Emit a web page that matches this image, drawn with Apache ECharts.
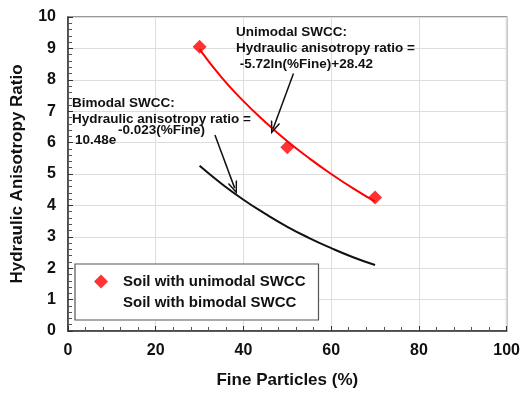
<!DOCTYPE html>
<html>
<head>
<meta charset="utf-8">
<script src="https://cdn.jsdelivr.net/npm/echarts@6/dist/echarts.min.js"></script>
<style>html,body{margin:0;padding:0;background:#fff}#c{width:523px;height:394px}</style>
</head>
<body>
<div id="c"></div>
<script>
// Measured data points (soil with unimodal SWCC)
const uniX = [30, 50, 70];
const uniY = [9.05, 5.85, 4.25];
// Fitted curves
const fitX = [30, 35, 40, 45, 50, 55, 60, 65, 70];
const uniFitY = [8.97, 8.08, 7.32, 6.65, 6.04, 5.50, 5.00, 4.54, 4.12];
const biFitY = [5.26, 4.69, 4.18, 3.73, 3.32, 2.96, 2.64, 2.35, 2.10];
// Arrow annotation endpoints (data coords)
const uniArrow = [[51.4, 8.2], [46.8, 6.46]];
const biArrow = [[33.5, 6.24], [38.0, 4.55]];
const xTicks = [0, 20, 40, 60, 80, 100];
const yTicks = [0,1,2,3,4,5,6,7,8,9,10];

const FONT = '"Liberation Sans", Arial, sans-serif';
const chevron = 'path://M5,0 L10,12 L8.4,12 L5,3.6 L1.6,12 L0,12 Z';

const chart = echarts.init(document.getElementById('c'), null, {renderer: 'canvas'});
const pair = (xs, ys) => xs.map((x, i) => [x, ys[i]]);
const annStyle = {fontFamily: FONT, fontWeight: 'bold', fontSize: 13.5, lineHeight: 16, fill: '#111'};

chart.setOption({
  animation: false,
  backgroundColor: '#fff',
  textStyle: {fontFamily: FONT},
  grid: {left: 68, right: 13, top: 17, bottom: 63, show: true, borderColor: '#777', borderWidth: 1.5},
  xAxis: {
    type: 'value', min: 0, max: 100, interval: 20,
    name: 'Fine Particles (%)', nameLocation: 'middle', nameGap: 41,
    nameTextStyle: {fontFamily: FONT, fontWeight: 'bold', fontSize: 17, color: '#111'},
    axisLine: {show: true, lineStyle: {color: '#333', width: 1.5}},
    axisTick: {show: true, inside: true, length: 5, lineStyle: {color: '#333'}},
    minorTick: {show: true, splitNumber: 5, length: 4, lineStyle: {color: '#555'}},
    axisLabel: {fontFamily: FONT, fontWeight: 'bold', fontSize: 16, color: '#111', margin: 12,
      formatter: v => xTicks.includes(v) ? String(v) : ''},
    splitLine: {show: true, lineStyle: {color: '#ddd', width: 1}}
  },
  yAxis: {
    type: 'value', min: 0, max: 10, interval: 1,
    name: 'Hydraulic Anisotropy Ratio', nameLocation: 'middle', nameGap: 42,
    nameTextStyle: {fontFamily: FONT, fontWeight: 'bold', fontSize: 17, color: '#111'},
    axisLine: {show: true, lineStyle: {color: '#333', width: 1.5}},
    axisTick: {show: true, inside: true, length: 5, lineStyle: {color: '#333'}},
    minorTick: {show: true, splitNumber: 5, length: 4, lineStyle: {color: '#555'}},
    axisLabel: {fontFamily: FONT, fontWeight: 'bold', fontSize: 16, color: '#111', margin: 12,
      formatter: v => yTicks.includes(v) ? String(v) : ''},
    splitLine: {show: true, lineStyle: {color: '#ddd', width: 1}}
  },
  legend: {
    orient: 'vertical', left: 75, top: 264,
    backgroundColor: '#fff', borderColor: '#555', borderWidth: 1.2,
    padding: [10, 13, 10, 19], itemGap: 6, itemWidth: 14, itemHeight: 14,
    textStyle: {fontFamily: FONT, fontWeight: 'bold', fontSize: 15, color: '#111', padding: [0, 0, 0, 10]},
    data: [
      {name: 'Soil with unimodal SWCC', icon: 'diamond', itemStyle: {color: '#ff0000'}},
      {name: 'Soil with bimodal SWCC', icon: 'rect', itemStyle: {color: 'rgba(0,0,0,0)', opacity: 0}}
    ]
  },
  series: [
    {
      name: 'Unimodal fit', type: 'line', smooth: true, symbol: 'none',
      data: pair(fitX, uniFitY), lineStyle: {color: '#ff0000', width: 2}, z: 2,
      markLine: {
        silent: true, symbol: ['none', chevron], symbolSize: [10, 13],
        lineStyle: {color: '#111', width: 1.5, type: 'solid'}, label: {show: false},
        data: [[{coord: uniArrow[0]}, {coord: uniArrow[1]}]]
      }
    },
    {
      name: 'Bimodal fit', type: 'line', smooth: true, symbol: 'none',
      data: pair(fitX, biFitY), lineStyle: {color: '#111', width: 2}, z: 2,
      markLine: {
        silent: true, symbol: ['none', chevron], symbolSize: [10, 13],
        lineStyle: {color: '#111', width: 1.5, type: 'solid'}, label: {show: false},
        data: [[{coord: biArrow[0]}, {coord: biArrow[1]}]]
      }
    },
    {
      name: 'Soil with unimodal SWCC', type: 'scatter', symbol: 'diamond', symbolSize: 14,
      data: pair(uniX, uniY), itemStyle: {color: '#ff0000'}, z: 3
    },
    {
      name: 'Soil with bimodal SWCC', type: 'scatter', symbol: 'none', data: []
    }
  ],
  graphic: [
    {type: 'text', left: 236, top: 24, z: 10, style: Object.assign({
      text: 'Unimodal SWCC:\nHydraulic anisotropy ratio =\n -5.72ln(%Fine)+28.42'}, annStyle)},
    {type: 'text', left: 72, top: 95, z: 10, style: Object.assign({
      text: 'Bimodal SWCC:\nHydraulic anisotropy ratio ='}, annStyle)},
    {type: 'text', left: 75, top: 132, z: 10, style: Object.assign({text: '10.48e'}, annStyle)},
    {type: 'text', left: 118, top: 122, z: 10, style: Object.assign({text: '-0.023(%Fine)'}, annStyle)}
  ]
});
</script>
</body>
</html>
